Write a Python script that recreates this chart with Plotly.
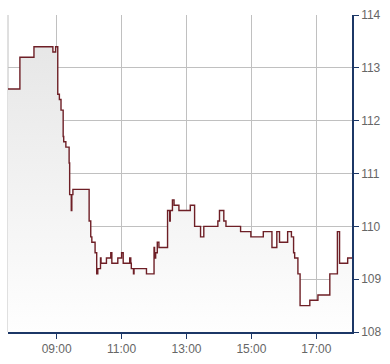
import plotly.graph_objects as go

day = "2024-01-02 "
times = ["07:30","07:52","08:18","08:53","08:58","09:02","09:05","09:08","09:12","09:13",
         "09:17","09:23","09:24","09:27","09:28","09:30","10:00","10:03","10:05","10:11",
         "10:14","10:16","10:21","10:22","10:32","10:40","10:42","10:53","11:00","11:03",
         "11:15","11:17","11:18","11:22","11:23","11:46","12:00","12:01","12:03","12:06",
         "12:09","12:25","12:29","12:30","12:34","12:37","12:46","13:07","13:15","13:26",
         "13:32","13:58","14:01","14:09","14:13","14:40","14:59","15:22","15:38","15:47",
         "15:52","16:07","16:14","16:18","16:20","16:26","16:30","16:48","17:03","17:25",
         "17:39","17:43","17:58","18:06"]
prices = [112.6,113.2,113.4,113.3,113.4,112.5,112.4,112.2,111.7,111.6,
          111.5,111.2,110.6,110.3,110.6,110.7,110.1,109.8,109.7,109.5,
          109.1,109.2,109.4,109.3,109.4,109.5,109.3,109.4,109.5,109.3,
          109.4,109.3,109.2,109.1,109.2,109.1,109.6,109.4,109.5,109.7,
          109.6,110.3,110.1,110.3,110.5,110.4,110.3,110.4,110.0,109.8,
          110.0,110.1,110.3,110.1,110.0,109.9,109.8,109.9,109.6,109.9,
          109.7,109.9,109.8,109.5,109.4,109.1,108.5,108.6,108.7,109.1,
          109.9,109.3,109.4,109.4]
x_ticks = ["09:00","11:00","13:00","15:00","17:00"]
y_ticks = [108,109,110,111,112,113,114]

xs = [day + t for t in times]

fig = go.Figure()
fig.add_trace(go.Scatter(
    x=xs, y=prices, mode="lines", line_shape="hv",
    line=dict(color="#6e1f26", width=1.4),
    fill="tozeroy",
    fillgradient=dict(type="vertical", start=108, stop=114,
                      colorscale=[[0, "#ffffff"], [1, "#e4e4e4"]]),
    hoverinfo="skip", showlegend=False,
))

axis_font = dict(family="Liberation Sans, Arial, sans-serif", size=12, color="#666666")
fig.update_layout(
    width=390, height=364,
    margin=dict(l=8, r=38, t=11, b=24),
    paper_bgcolor="white", plot_bgcolor="white",
    xaxis=dict(
        range=[day + "07:30", day + "18:06"],
        tickvals=[day + t for t in x_ticks], ticktext=x_ticks,
        showgrid=True, gridcolor="#c0c0c0", gridwidth=1,
        showline=True, linecolor="#1c3766", linewidth=1.5,
        ticks="outside", ticklen=5, tickcolor="#1c3766",
        tickfont=axis_font, zeroline=False, fixedrange=True,
    ),
    yaxis=dict(
        range=[108, 114], side="right",
        tickvals=y_ticks, ticktext=[str(v) for v in y_ticks],
        showgrid=True, gridcolor="#c0c0c0", gridwidth=1,
        showline=True, linecolor="#1c3766", linewidth=1.5,
        ticks="outside", ticklen=5, tickcolor="#1c3766",
        tickfont=axis_font, zeroline=False, fixedrange=True,
    ),
    shapes=[
        dict(type="line", xref="paper", yref="paper", x0=0, x1=0, y0=0, y1=1,
             line=dict(color="#c0c0c0", width=1), layer="below"),
    ],
)
fig.write_html("out.html")
